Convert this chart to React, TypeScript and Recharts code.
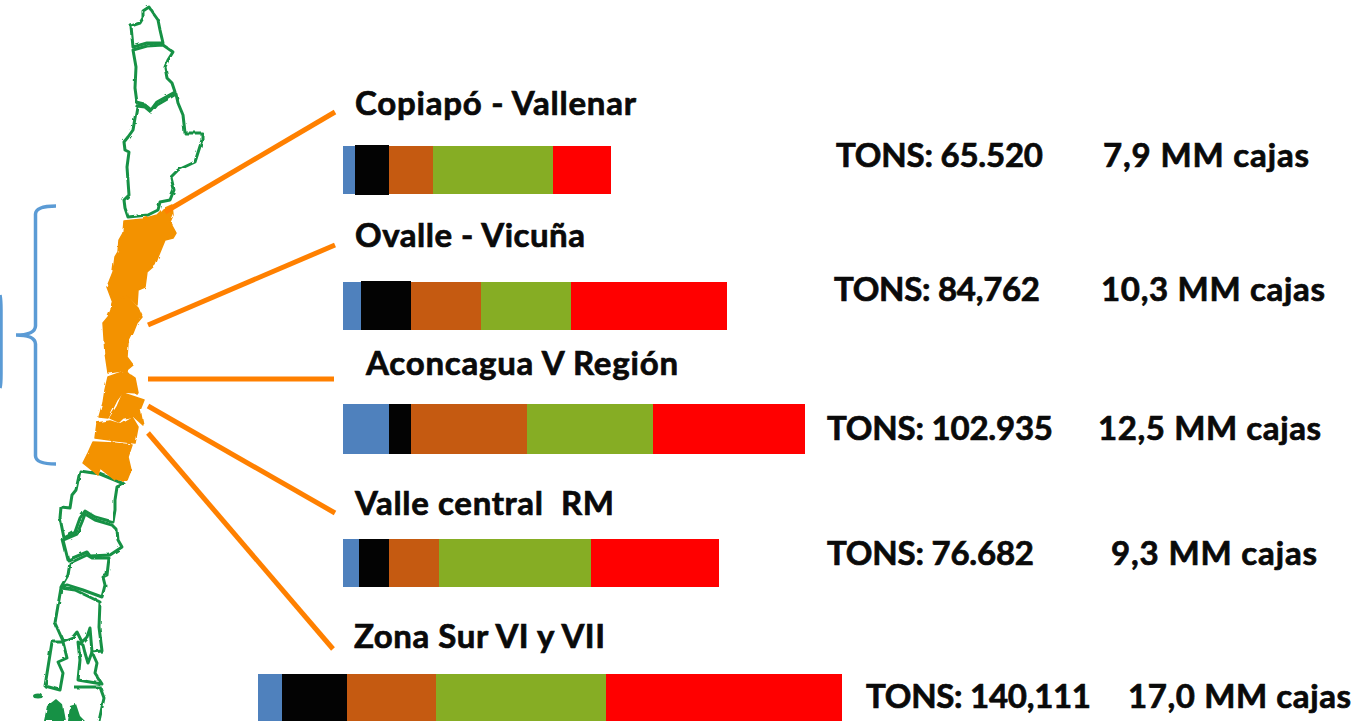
import { BarChart, Bar, XAxis, YAxis, Rectangle } from 'recharts';

// one row per growing zone, north to south
const zones = ['Copiapó - Vallenar', 'Ovalle - Vicuña', 'Aconcagua V Región', 'Valle central  RM', 'Zona Sur VI y VII'];
const tons = ['TONS: 65.520', 'TONS: 84,762', 'TONS: 102.935', 'TONS: 76.682', 'TONS: 140,111'];
const boxes = ['7,9 MM cajas', '10,3 MM cajas', '12,5 MM cajas', '9,3 MM cajas', '17,0 MM cajas'];

// segment lengths
const lead = [85, 85, 85, 85, 0];
const blue = [12, 18, 46, 16, 24];
const black = [34, 50, 22, 30, 65];
const brown = [44, 70, 116, 50, 89];
const green = [120, 90, 126, 152, 170];
const red = [58, 156, 152, 128, 236];

const rows = zones.map((zone, i) => ({
  zone,
  lead: lead[i],
  blue: blue[i],
  black: black[i],
  brown: brown[i],
  green: green[i],
  red: red[i],
}));

const CHART_LEFT = 258;
const CHART_WIDTH = 1000;
const rowTop = [146, 282, 404, 539, 674];
const rowHeight = [48, 48, 50, 48, 47];
const labelPos = [[355, 115], [355, 247], [366, 375], [355, 515], [354, 648]];
const labelWidth = [281, 230, 312, 259, 251];
const tonsPos = [[836, 167], [834, 301], [827, 440], [827, 565], [866, 708]];
const tonsWidth = [207, 206, 226, 207, 225];
const boxPos = [[1103, 167], [1101, 301], [1098, 440], [1111, 565], [1128, 708]];
const boxWidth = [206, 224, 223, 206, 223];

const GREEN = '#159144';
const ORANGE = '#F39200';

const greenRegions = [
  'M149 7L153 13L158 20L160 30L163 43L147 43L133 47L131 26L140 23L143 18L143 11Z',
  'M133 50L147 46L163 45L173 52L168 60L165 67L167 78L172 83L175 92L157 102L151 110L145 105L137 103L135 88L136 67Z',
  'M137 106L145 107L151 112L157 105L176 94L178 103L183 115L185 133L202 133L202 140L195 162L178 170L171 177L174 190L170 200L160 202L158 210L148 215L128 217L125 208L124 200L129 195L127 167L129 152L125 150L124 142L128 137L133 130Z',
  'M80 471L100 474L117 481L124 484L117 487L115 500L115 510L113 522L95 517L85 511L80 518L75 532L64 538L60 518L61 507L70 508L72 495L76 490Z',
  'M85 514L95 520L112 525L117 530L118 540L122 547L110 555L90 556L87 552L68 560L63 540L77 534L82 522Z',
  'M70 563L87 555L92 558L109 558L107 575L103 577L105 585L102 597L83 590L67 585L61 587L68 575Z',
  'M61 588L75 590L100 602L99 627L102 651L92 652L90 628L87 637L82 642L77 632L73 637L63 641L55 623Z',
  'M52 642L63 642L67 658L58 662L63 673L60 690L45 686Z',
  'M78 642L80 660L78 680L102 684L95 673L97 663L92 652L88 663L85 653L83 645Z',
  'M74 687L100 687L104 698L99 721',
];

const orangeRegions = [
  'M124 221L143 219L157 215L163 209L172 205L173 215L170 222L176 233L173 238L165 240L158 257L155 265L147 272L145 287L138 290L137 305L128 297L122 297L113 303L107 287L113 272L115 257L118 252L119 240L123 233Z',
  'M112 303L120 298L127 297L138 308L142 317L137 323L133 333L128 343L127 357L133 365L127 370L108 373L105 353L103 323L108 317L111 310Z',
  'M108 377L125 371L135 378L138 393L123 392L117 400L108 418L99 417L103 403L105 390Z',
  'M123 393L144 400L140 410L143 425L133 416L123 418L119 422L110 418L117 407Z',
  'M97 423L110 421L120 424L132 417L138 427L135 443L117 441L95 438Z',
  'M93 442L113 443L132 445L128 457L131 470L127 480L115 480L100 468L98 475L83 463L88 453Z',
];

const orangeLines = [
  [165, 212, 335, 112],
  [148, 325, 335, 245],
  [148, 379, 334, 379],
  [148, 406, 335, 513],
  [148, 433, 333, 649],
];

const textStyle = { fontFamily: 'Lato', fontWeight: 700, fontSize: 33, fill: '#0a0a0a', stroke: '#0a0a0a', strokeWidth: 0.7, whiteSpace: 'pre' as const };

function Backdrop() {
  return (
    <svg width={1357} height={721} style={{ position: 'absolute', left: 0, top: 0 }}>
      <defs>
        <filter id="rough" x="-10%" y="-10%" width="120%" height="120%">
          <feTurbulence type="fractalNoise" baseFrequency="0.12" numOctaves={2} seed={4} />
          <feDisplacementMap in="SourceGraphic" scale={3} />
          <feGaussianBlur stdDeviation={0.5} />
        </filter>
      </defs>

      {/* bracket and the edge of the box left of it */}
      <path
        d="M56 206Q36 206 35.5 214L35.5 326Q35 335 16 335Q35 335 35.5 344L35.5 456Q36 464 56 464"
        fill="none"
        stroke="#5B9BD5"
        strokeWidth={3.5}
      />
      <path d="M0 295Q1 300 1 310L1 374Q1 384 0 388" fill="none" stroke="#5B9BD5" strokeWidth={3.5} />

      {/* map of Chile */}
      <g filter="url(#rough)">
        {greenRegions.map((d, i) => (
          <path key={i} d={d} fill="none" stroke={GREEN} strokeWidth={3} strokeLinejoin="round" />
        ))}
        <ellipse cx={38} cy={696} rx={5} ry={2.5} fill={GREEN} />
        <path d="M44 721L47 706L56 699L63 705L66 721Z" fill={GREEN} />
        <path d="M68 721L70 706L76 704L80 716L85 721Z" fill={GREEN} />
        {orangeRegions.map((d, i) => (
          <path key={i} d={d} fill={ORANGE} stroke={ORANGE} strokeWidth={1.5} strokeLinejoin="round" />
        ))}
      </g>

      {orangeLines.map(([x1, y1, x2, y2], i) => (
        <line key={i} x1={x1} y1={y1} x2={x2} y2={y2} stroke="#FF8000" strokeWidth={5} />
      ))}
    </svg>
  );
}

// the black block sits a touch proud of the bar in the first two rows
function BlackBlock(props: any) {
  const zone = props.payload.zone;
  const up = zone === zones[0] || zone === zones[1] ? 1 : 0;
  const down = zone === zones[0] ? 1 : 0;
  return <Rectangle {...props} y={props.y - up} height={props.height + up + down} />;
}

function ZoneBar({ row, top, height }: { row: (typeof rows)[number]; top: number; height: number }) {
  return (
    <div style={{ position: 'absolute', left: CHART_LEFT, top: top - 1 }}>
      <BarChart
        layout="vertical"
        width={CHART_WIDTH}
        height={height + 2}
        data={[row]}
        margin={{ top: 1, right: 0, bottom: 1, left: 0 }}
        barCategoryGap={0}
      >
        <XAxis type="number" domain={[0, CHART_WIDTH]} hide />
        <YAxis type="category" dataKey="zone" hide />
        <Bar dataKey="lead" stackId="a" fill="transparent" isAnimationActive={false} />
        <Bar dataKey="blue" stackId="a" fill="#4F81BD" isAnimationActive={false} />
        <Bar dataKey="black" stackId="a" fill="#030303" shape={BlackBlock} isAnimationActive={false} />
        <Bar dataKey="brown" stackId="a" fill="#C55A11" isAnimationActive={false} />
        <Bar dataKey="green" stackId="a" fill="#86AD24" isAnimationActive={false} />
        <Bar dataKey="red" stackId="a" fill="#FF0000" isAnimationActive={false} />
      </BarChart>
    </div>
  );
}

export default function App() {
  return (
    <div style={{ position: 'absolute', left: 0, top: 0, width: 1357, height: 721, overflow: 'hidden', background: '#fff' }}>
      <Backdrop />
      {rows.map((row, i) => (
        <ZoneBar key={row.zone} row={row} top={rowTop[i]} height={rowHeight[i]} />
      ))}
      <svg width={1357} height={721} style={{ position: 'absolute', left: 0, top: 0 }}>
        {zones.map((zone, i) => (
          <text key={zone} x={labelPos[i][0]} y={labelPos[i][1]} textLength={labelWidth[i]} style={textStyle}>
            {zone}
          </text>
        ))}
        {tons.map((t, i) => (
          <text key={t} x={tonsPos[i][0]} y={tonsPos[i][1]} textLength={tonsWidth[i]} style={textStyle}>
            {t}
          </text>
        ))}
        {boxes.map((b, i) => (
          <text key={b} x={boxPos[i][0]} y={boxPos[i][1]} textLength={boxWidth[i]} style={textStyle}>
            {b}
          </text>
        ))}
      </svg>
    </div>
  );
}
